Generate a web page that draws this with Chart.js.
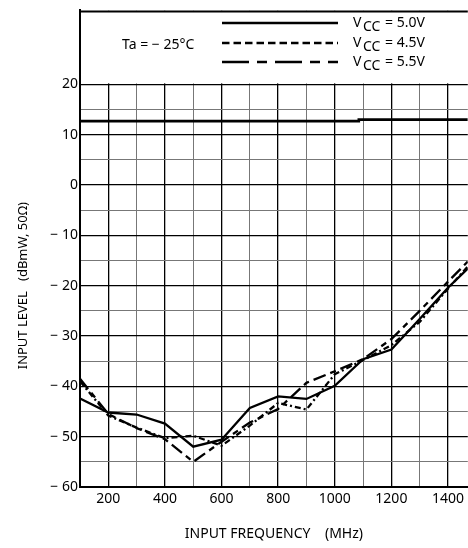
<!DOCTYPE html>
<html>
<head>
<meta charset="utf-8">
<script src="https://cdn.jsdelivr.net/npm/chart.js@4"></script>
<style>
  body { margin: 0; background: #fff; }
  #wrap { width: 468px; height: 548px; position: relative; }
</style>
</head>
<body>
<div id="wrap"><canvas id="chart"></canvas></div>
<script>
// data
var freq   = [100, 200, 300, 400, 500, 600, 700, 800, 900, 1000, 1100, 1200, 1300, 1400, 1470];
var vcc50  = [-42.4, -45.2, -45.6, -47.4, -52.0, -50.6, -44.3, -42.0, -42.5, -39.9, -34.6, -32.7, -26.6, -20.4, -16.6];
var vcc45  = [-39.0, -45.8, -48.2, -50.3, -49.8, -51.8, -47.8, -43.3, -44.6, -37.6, -34.8, -31.8, -27.2, -20.6, -16.2];
var vcc55  = [-38.5, -45.5, -48.3, -50.5, -55.0, -51.0, -47.2, -44.5, -39.3, -37.0, -34.6, -30.6, -25.0, -19.2, -15.2];
// max input level line (upper limit)
var maxFreq  = [100, 1085, 1085, 1470];
var maxLevel = [12.7, 12.7, 13.0, 13.0];

var xTicks = [100, 200, 300, 400, 500, 600, 700, 800, 900, 1000, 1100, 1200, 1300, 1400];
var yTicks = [-60, -55, -50, -45, -40, -35, -30, -25, -20, -15, -10, -5, 0, 5, 10, 15, 20];

var FONT = '"Noto Sans", "Open Sans", sans-serif';

function pts(xs, ys) {
    return xs.map(function (x, i) { return { x: x, y: ys[i] }; });
}

// blank the legend box above 20 dB, then draw legend & y title
var framePlugin = {
    id: 'frame',
    beforeDatasetsDraw: function (chart) {
        var ctx = chart.ctx, a = chart.chartArea;
        var y20 = chart.scales.y.getPixelForValue(20);
        ctx.save();
        ctx.fillStyle = '#fff';
        ctx.fillRect(a.left + 1, a.top, a.right - a.left, y20 - a.top - 1);
        ctx.strokeStyle = '#000';
        ctx.lineWidth = 2;
        ctx.beginPath();
        ctx.moveTo(a.left, a.top + 1);
        ctx.lineTo(a.right, a.top + 1);
        ctx.stroke();
        ctx.restore();
    },
    afterDraw: function (chart) {
        var ctx = chart.ctx;
        ctx.save();
        ctx.fillStyle = '#000';
        ctx.strokeStyle = '#000';
        ctx.lineWidth = 2.4;

        var rows = [
            { y: 23, dash: [], v: '= 5.0V' },
            { y: 43, dash: [7.5, 4], v: '= 4.5V' },
            { y: 62, dash: [27, 8, 10, 8], v: '= 5.5V' }
        ];
        rows.forEach(function (r) {
            ctx.setLineDash(r.dash);
            ctx.beginPath();
            ctx.moveTo(222, r.y);
            ctx.lineTo(338, r.y);
            ctx.stroke();
            ctx.setLineDash([]);
            ctx.textBaseline = 'middle';
            ctx.textAlign = 'left';
            ctx.font = '14px ' + FONT;
            ctx.fillText('V', 353, r.y);
            ctx.font = '14px ' + FONT;
            ctx.fillText('CC', 363, r.y + 4);
            ctx.font = '14px ' + FONT;
            ctx.fillText(r.v, 385, r.y);
        });

        ctx.font = '14px ' + FONT;
        ctx.textAlign = 'left';
        ctx.textBaseline = 'middle';
        ctx.fillText('Ta = \u2212 25\u00B0C', 122, 45);

        // y axis title, centred on the gridded part
        var yc = chart.scales.y.getPixelForValue(-20);
        ctx.translate(23, yc);
        ctx.rotate(-Math.PI / 2);
        ctx.textAlign = 'center';
        ctx.font = '13px ' + FONT;
        ctx.fillText('INPUT LEVEL   (dBmW, 50\u03A9)', 0, 0);
        ctx.restore();
    }
};

function lineSet(label, data, dash) {
    return {
        label: label,
        data: data,
        borderColor: '#000',
        borderWidth: 2.3,
        borderDash: dash,
        pointRadius: 0,
        tension: 0,
        fill: false
    };
}

new Chart(document.getElementById('chart'), {
    type: 'line',
    data: {
        datasets: [
            lineSet('VCC = 5.0V', pts(freq, vcc50), []),
            lineSet('VCC = 4.5V', pts(freq, vcc45), [6, 3, 2, 3]),
            lineSet('VCC = 5.5V', pts(freq, vcc55), [13, 5, 6, 5]),
            Object.assign(lineSet('max', pts(maxFreq, maxLevel), []), { borderWidth: 2.6 })
        ]
    },
    options: {
        responsive: true,
        maintainAspectRatio: false,
        animation: false,
        layout: { padding: { top: 5, right: 0, left: 0, bottom: 0 } },
        plugins: {
            legend: { display: false },
            tooltip: { enabled: false }
        },
        scales: {
            x: {
                type: 'linear',
                min: 100,
                max: 1470,
                afterBuildTicks: function (s) { s.ticks = xTicks.map(function (v) { return { value: v }; }); },
                afterFit: function (s) { s.height = 61; },
                grid: {
                    drawTicks: false,
                    lineWidth: function (c) { return c.tick && c.tick.value % 200 === 0 ? 1.3 : 1; },
                    color: function (c) { return c.tick && c.tick.value % 200 === 0 ? '#000' : '#777'; }
                },
                border: { display: true, color: '#000', width: 2 },
                ticks: {
                    padding: 4,
                    color: '#000',
                    maxRotation: 0,
                    autoSkip: false,
                    font: { family: FONT, size: 14 },
                    callback: function (v) { return v % 200 === 0 ? String(v) : ''; }
                },
                title: {
                    display: true,
                    text: 'INPUT FREQUENCY    (MHz)',
                    color: '#000',
                    font: { family: FONT, size: 14 },
                    padding: { top: 4, bottom: 6 }
                }
            },
            y: {
                min: -60,
                max: 34.7,
                afterBuildTicks: function (s) { s.ticks = yTicks.map(function (v) { return { value: v }; }); },
                afterFit: function (s) { s.width = 80; },
                grid: {
                    drawTicks: false,
                    lineWidth: function (c) { return c.tick && c.tick.value % 10 === 0 ? 1.3 : 1; },
                    color: function (c) { return c.tick && c.tick.value % 10 === 0 ? '#000' : '#777'; }
                },
                border: { display: true, color: '#000', width: 2 },
                ticks: {
                    padding: 2,
                    color: '#000',
                    autoSkip: false,
                    font: { family: FONT, size: 14 },
                    callback: function (v) {
                        if (v % 10 !== 0) return '';
                        return v < 0 ? '\u2212 ' + (-v) : String(v);
                    }
                }
            }
        }
    },
    plugins: [framePlugin]
});
</script>
</body>
</html>
